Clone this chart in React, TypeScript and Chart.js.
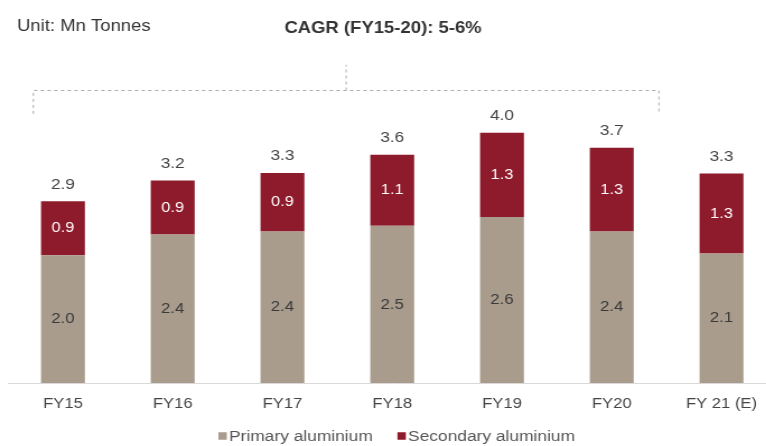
import React, { useEffect, useRef } from "react";
import { Chart, registerables } from "chart.js";

Chart.register(...registerables);

// ---- data ----
const categories = ["FY15", "FY16", "FY17", "FY18", "FY19", "FY20", "FY 21 (E)"];
const primaryAluminium = [2.03, 2.36, 2.41, 2.5, 2.64, 2.41, 2.06];
const secondaryAluminium = [0.86, 0.86, 0.93, 1.13, 1.34, 1.33, 1.27];
const seriesNames = ["Primary aluminium", "Secondary aluminium"];
const unitLabel = "Unit: Mn Tonnes";
const cagrLabel = "CAGR (FY15-20): 5-6%";
const cagrFromIndex = 0;
const cagrToIndex = 5;

// ---- look ----
const VIEW_W = 766;
const VIEW_H = 446;
const STRETCH = 1.12; // reference is horizontally stretched
const CANVAS_W = 700;
const FONT = "'Liberation Sans', Arial, sans-serif";
const COLORS = ["#A99C8D", "#8E1B2B"];

const overlayPlugin = {
  id: "overlay",
  afterDatasetsDraw(chart: any) {
    const ctx = chart.ctx;
    const metaP = chart.getDatasetMeta(0);
    const metaS = chart.getDatasetMeta(1);
    ctx.save();
    ctx.textAlign = "center";
    ctx.textBaseline = "middle";
    metaP.data.forEach((bar: any, i: number) => {
      const { x, y, base } = bar.getProps(["x", "y", "base"], true);
      ctx.fillStyle = "#3a3a3a";
      ctx.font = `15px ${FONT}`;
      ctx.fillText(primaryAluminium[i].toFixed(1), x, (y + base) / 2);
    });
    metaS.data.forEach((bar: any, i: number) => {
      const { x, y, base } = bar.getProps(["x", "y", "base"], true);
      ctx.fillStyle = "#ffffff";
      ctx.font = `14.5px ${FONT}`;
      ctx.fillText(secondaryAluminium[i].toFixed(1), x, (y + base) / 2);
      const total = primaryAluminium[i] + secondaryAluminium[i];
      ctx.fillStyle = "#444444";
      ctx.font = `15.5px ${FONT}`;
      ctx.fillText(total.toFixed(1), x, y - 17);
    });
    ctx.restore();
  },
  afterDraw(chart: any) {
    const ctx = chart.ctx;
    const xs = chart.scales.x;
    const ys = chart.scales.y;
    const area = chart.chartArea;
    ctx.save();
    // headings
    ctx.textBaseline = "middle";
    ctx.fillStyle = "#333333";
    ctx.textAlign = "left";
    ctx.font = `16.5px ${FONT}`;
    ctx.fillText(unitLabel, 15.2, 26);
    ctx.textAlign = "center";
    ctx.font = `bold 16.5px ${FONT}`;
    ctx.fillText(cagrLabel, VIEW_W / STRETCH / 2, 28);

    // CAGR bracket
    const xl = xs.getPixelForValue(cagrFromIndex - 0.27);
    const xr = xs.getPixelForValue(cagrToIndex + 0.43);
    const xm = (xl + xr) / 2;
    const yLine = Math.round(ys.getPixelForValue(4.66)) + 0.5;
    const yEnd = ys.getPixelForValue(4.28);
    const yTop = ys.getPixelForValue(5.06);
    ctx.strokeStyle = "#ABABAB";
    ctx.lineWidth = 1;
    ctx.setLineDash([3, 3]);
    ctx.beginPath();
    ctx.moveTo(xl, yEnd);
    ctx.lineTo(xl, yLine);
    ctx.lineTo(xr, yLine);
    ctx.lineTo(xr, yEnd);
    ctx.moveTo(xm, yLine);
    ctx.lineTo(xm, yTop);
    ctx.stroke();
    ctx.setLineDash([]);

    // legend
    ctx.font = `15.5px ${FONT}`;
    const box = 7.5;
    const gap = 2;
    const itemGap = 22;
    const widths = seriesNames.map((n) => ctx.measureText(n).width);
    const total = widths.reduce((a, w) => a + box + gap + w, 0) + itemGap * (seriesNames.length - 1);
    let lx = (area.left + area.right) / 2 + 4 - total / 2;
    const ly = 436;
    ctx.textAlign = "left";
    seriesNames.forEach((name, i) => {
      ctx.fillStyle = COLORS[i];
      ctx.fillRect(lx, ly - box / 2, box, box);
      ctx.fillStyle = "#555555";
      ctx.fillText(name, lx + box + gap, ly + 1);
      lx += box + gap + widths[i] + itemGap;
    });
    ctx.restore();
  },
};

export default function App() {
  const canvasRef = useRef<HTMLCanvasElement | null>(null);

  useEffect(() => {
    if (!canvasRef.current) return;
    const chart = new Chart(canvasRef.current, {
      type: "bar",
      data: {
        labels: categories,
        datasets: [
          {
            label: seriesNames[0],
            data: primaryAluminium,
            backgroundColor: COLORS[0],
            barPercentage: 0.4,
            categoryPercentage: 1,
          },
          {
            label: seriesNames[1],
            data: secondaryAluminium,
            backgroundColor: COLORS[1],
            barPercentage: 0.4,
            categoryPercentage: 1,
          },
        ],
      },
      options: {
        responsive: false,
        animation: false,
        devicePixelRatio: 1,
        layout: { padding: { left: 7.2, right: CANVAS_W - 693.2, top: 56, bottom: 21.2 } },
        plugins: {
          legend: { display: false },
          tooltip: { enabled: false },
          title: { display: false },
        },
        scales: {
          x: {
            stacked: true,
            offset: true,
            grid: { display: false, drawTicks: false },
            border: { display: true, color: "#D9D9D9", width: 1 },
            ticks: { color: "#444444", font: { family: FONT, size: 14.8 }, padding: 12 },
          },
          y: {
            stacked: true,
            display: false,
            min: 0,
            max: 5.2,
          },
        },
      },
      plugins: [overlayPlugin],
    });
    return () => chart.destroy();
  }, []);

  return (
    <div
      style={{
        position: "fixed",
        left: 0,
        top: 0,
        width: VIEW_W,
        height: VIEW_H,
        overflow: "hidden",
        background: "#ffffff",
      }}
    >
      <canvas
        ref={canvasRef}
        width={CANVAS_W}
        height={VIEW_H}
        style={{ width: CANVAS_W * STRETCH, height: VIEW_H, display: "block" }}
      />
    </div>
  );
}
